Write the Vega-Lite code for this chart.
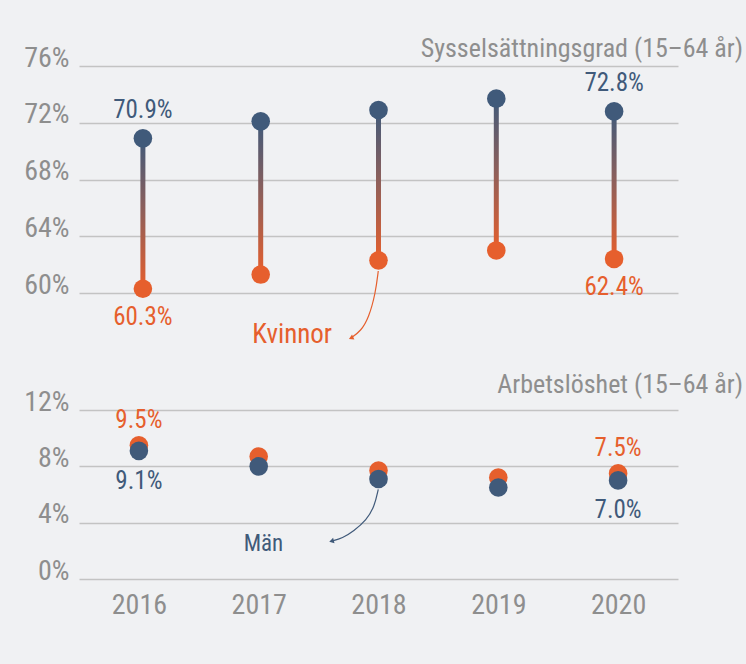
{
  "$schema": "https://vega.github.io/schema/vega-lite/v6.json",
  "background": "#f0f1f3",
  "padding": {"left": 23, "top": 36, "right": 4, "bottom": 50},
  "spacing": 117,
  "bounds": "flush",
  "config": {
    "font": "Roboto Condensed, Roboto",
    "view": {"stroke": null},
    "axis": {
      "domain": false,
      "ticks": false,
      "gridColor": "#c3c3c3",
      "gridWidth": 1.5,
      "labelColor": "#8e8e8e",
      "labelFont": "Roboto Condensed, Roboto",
      "labelFontSize": 28,
      "title": null
    },
    "title": {
      "font": "Roboto Condensed, Roboto",
      "fontSize": 26,
      "fontWeight": "normal",
      "color": "#8e8e8e",
      "anchor": "end",
      "baseline": "alphabetic"
    }
  },
  "datasets": {
    "emp": [
      {"year": 2016, "men": 70.9, "women": 60.3},
      {"year": 2017, "men": 72.1, "women": 61.3},
      {"year": 2018, "men": 72.9, "women": 62.3},
      {"year": 2019, "men": 73.7, "women": 63.0},
      {"year": 2020, "men": 72.8, "women": 62.4}
    ],
    "emp_lab": [
      {"year": 2016, "value": 70.9, "label": "70.9%", "sex": "Män"},
      {"year": 2016, "value": 60.3, "label": "60.3%", "sex": "Kvinnor"},
      {"year": 2020, "value": 72.8, "label": "72.8%", "sex": "Män"},
      {"year": 2020, "value": 62.4, "label": "62.4%", "sex": "Kvinnor"}
    ],
    "unemp": [
      {"year": 2016, "men": 9.1, "women": 9.5},
      {"year": 2017, "men": 8.0, "women": 8.7},
      {"year": 2018, "men": 7.1, "women": 7.7},
      {"year": 2019, "men": 6.5, "women": 7.2},
      {"year": 2020, "men": 7.0, "women": 7.5}
    ],
    "unemp_lab": [
      {"year": 2016, "value": 9.5, "label": "9.5%", "sex": "Kvinnor"},
      {"year": 2016, "value": 9.1, "label": "9.1%", "sex": "Män"},
      {"year": 2020, "value": 7.5, "label": "7.5%", "sex": "Kvinnor"},
      {"year": 2020, "value": 7.0, "label": "7.0%", "sex": "Män"}
    ],
    "arrow_k": [
      {"o": 1, "x": 2017.998, "y": 61.55},
      {"o": 2, "x": 2017.975, "y": 60.0},
      {"o": 3, "x": 2017.917, "y": 58.24},
      {"o": 4, "x": 2017.85, "y": 57.32},
      {"o": 5, "x": 2017.767, "y": 56.83}
    ],
    "arrow_m": [
      {"o": 1, "x": 2017.998, "y": 6.37},
      {"o": 2, "x": 2017.967, "y": 5.17},
      {"o": 3, "x": 2017.9, "y": 4.18},
      {"o": 4, "x": 2017.792, "y": 3.4},
      {"o": 5, "x": 2017.7, "y": 2.9},
      {"o": 6, "x": 2017.608, "y": 2.69}
    ],
    "note_k": [{"x": 2017.267, "y": 57.04, "text": "Kvinnor"}],
    "note_m": [{"x": 2017.04, "y": 2.48, "text": "Män"}]
  },
  "vconcat": [
    {
      "width": 599,
      "height": 227,
      "title": {"text": "Sysselsättningsgrad (15–64 år)", "dx": 65, "offset": -18},
      "layer": [
        {
          "data": {"name": "emp"},
          "mark": {
            "type": "bar",
            "size": 5,
            "color": {
              "gradient": "linear",
              "x1": 0, "y1": 0, "x2": 0, "y2": 1,
              "stops": [
                {"offset": 0, "color": "#405a7a"},
                {"offset": 0.45, "color": "#8a5f5c"},
                {"offset": 1, "color": "#e65f2d"}
              ]
            }
          },
          "encoding": {
            "x": {"field": "year", "type": "quantitative", "scale": {"domain": [2015.5, 2020.5], "nice": false, "zero": false}, "axis": null},
            "y": {
              "field": "men", "type": "quantitative",
              "scale": {"domain": [60, 76], "nice": false, "zero": false},
              "axis": {"values": [60, 64, 68, 72, 76], "labelExpr": "datum.value + '%'", "labelPadding": 10, "labelBaseline": "alphabetic", "grid": true}
            },
            "y2": {"field": "women"}
          }
        },
        {
          "data": {"name": "emp"},
          "mark": {"type": "circle", "size": 346, "opacity": 1, "color": "#e65f2d"},
          "encoding": {
            "x": {"field": "year", "type": "quantitative"},
            "y": {"field": "women", "type": "quantitative"}
          }
        },
        {
          "data": {"name": "emp"},
          "mark": {"type": "circle", "size": 346, "opacity": 1, "color": "#405a7a"},
          "encoding": {
            "x": {"field": "year", "type": "quantitative"},
            "y": {"field": "men", "type": "quantitative"}
          }
        },
        {
          "data": {"name": "emp_lab"},
          "transform": [{"filter": "datum.sex === 'Män'"}],
          "mark": {"type": "text", "fontSize": 25, "color": "#405a7a", "dy": -28, "baseline": "middle"},
          "encoding": {
            "x": {"field": "year", "type": "quantitative"},
            "y": {"field": "value", "type": "quantitative"},
            "text": {"field": "label"}
          }
        },
        {
          "data": {"name": "emp_lab"},
          "transform": [{"filter": "datum.sex === 'Kvinnor'"}],
          "mark": {"type": "text", "fontSize": 25, "color": "#e65f2d", "dy": 28, "baseline": "middle"},
          "encoding": {
            "x": {"field": "year", "type": "quantitative"},
            "y": {"field": "value", "type": "quantitative"},
            "text": {"field": "label"}
          }
        },
        {
          "data": {"name": "arrow_k"},
          "mark": {"type": "line", "interpolate": "basis", "color": "#e65f2d", "strokeWidth": 1.2},
          "encoding": {
            "x": {"field": "x", "type": "quantitative"},
            "y": {"field": "y", "type": "quantitative"},
            "order": {"field": "o"}
          }
        },
        {
          "data": {"name": "arrow_k"},
          "transform": [{"filter": "datum.o === 5"}],
          "mark": {"type": "point", "shape": "triangle-left", "filled": true, "size": 30, "opacity": 1, "color": "#e65f2d", "angle": 335},
          "encoding": {
            "x": {"field": "x", "type": "quantitative"},
            "y": {"field": "y", "type": "quantitative"}
          }
        },
        {
          "data": {"name": "note_k"},
          "mark": {"type": "text", "fontSize": 27, "color": "#e65f2d", "baseline": "middle"},
          "encoding": {
            "x": {"field": "x", "type": "quantitative"},
            "y": {"field": "y", "type": "quantitative"},
            "text": {"field": "text"}
          }
        }
      ]
    },
    {
      "width": 599,
      "height": 169,
      "title": {"text": "Arbetslöshet (15–64 år)", "dx": 65, "offset": -10},
      "layer": [
        {
          "data": {"name": "unemp"},
          "mark": {"type": "circle", "size": 346, "opacity": 1, "color": "#e65f2d"},
          "encoding": {
            "x": {
              "field": "year", "type": "quantitative",
              "scale": {"domain": [2015.5, 2020.5], "nice": false, "zero": false},
              "axis": {"values": [2016, 2017, 2018, 2019, 2020], "format": "d", "grid": false, "labelPadding": 12}
            },
            "y": {
              "field": "women", "type": "quantitative",
              "scale": {"domain": [0, 12], "nice": false, "zero": false},
              "axis": {"values": [0, 4, 8, 12], "labelExpr": "datum.value + '%'", "labelPadding": 10, "labelBaseline": "alphabetic", "grid": true}
            }
          }
        },
        {
          "data": {"name": "unemp"},
          "mark": {"type": "circle", "size": 346, "opacity": 1, "color": "#405a7a"},
          "encoding": {
            "x": {"field": "year", "type": "quantitative"},
            "y": {"field": "men", "type": "quantitative"}
          }
        },
        {
          "data": {"name": "unemp_lab"},
          "transform": [{"filter": "datum.sex === 'Kvinnor'"}],
          "mark": {"type": "text", "fontSize": 25, "color": "#e65f2d", "dy": -25, "baseline": "middle"},
          "encoding": {
            "x": {"field": "year", "type": "quantitative"},
            "y": {"field": "value", "type": "quantitative"},
            "text": {"field": "label"}
          }
        },
        {
          "data": {"name": "unemp_lab"},
          "transform": [{"filter": "datum.sex === 'Män'"}],
          "mark": {"type": "text", "fontSize": 25, "color": "#405a7a", "dy": 30, "baseline": "middle"},
          "encoding": {
            "x": {"field": "year", "type": "quantitative"},
            "y": {"field": "value", "type": "quantitative"},
            "text": {"field": "label"}
          }
        },
        {
          "data": {"name": "arrow_m"},
          "mark": {"type": "line", "interpolate": "basis", "color": "#405a7a", "strokeWidth": 1.2},
          "encoding": {
            "x": {"field": "x", "type": "quantitative"},
            "y": {"field": "y", "type": "quantitative"},
            "order": {"field": "o"}
          }
        },
        {
          "data": {"name": "arrow_m"},
          "transform": [{"filter": "datum.o === 6"}],
          "mark": {"type": "point", "shape": "triangle-left", "filled": true, "size": 30, "opacity": 1, "color": "#405a7a", "angle": 345},
          "encoding": {
            "x": {"field": "x", "type": "quantitative"},
            "y": {"field": "y", "type": "quantitative"}
          }
        },
        {
          "data": {"name": "note_m"},
          "mark": {"type": "text", "fontSize": 23, "color": "#405a7a", "baseline": "middle"},
          "encoding": {
            "x": {"field": "x", "type": "quantitative"},
            "y": {"field": "y", "type": "quantitative"},
            "text": {"field": "text"}
          }
        }
      ]
    }
  ]
}
